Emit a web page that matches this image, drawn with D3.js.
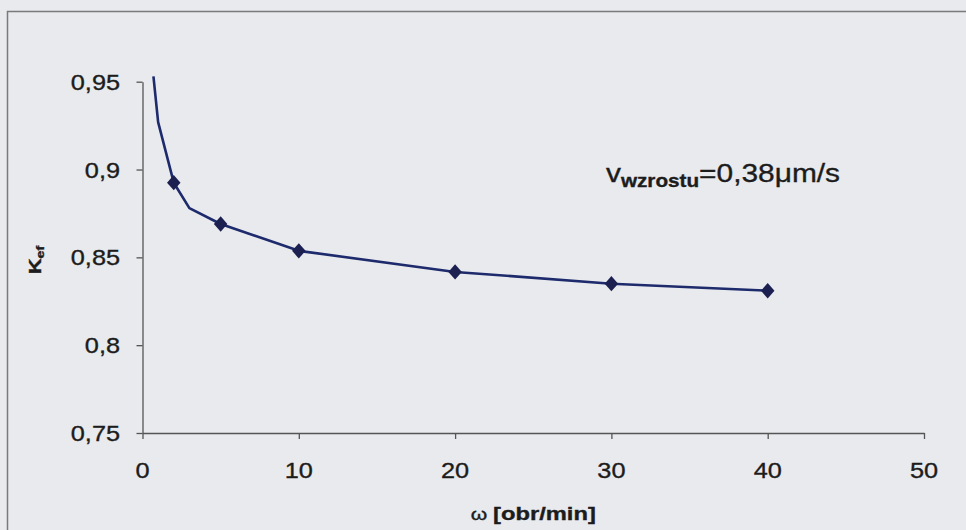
<!DOCTYPE html>
<html>
<head>
<meta charset="utf-8">
<script src="https://cdn.jsdelivr.net/npm/d3@7"></script>
<style>
  html, body { margin: 0; padding: 0; background: #e9eaee; }
  svg { display: block; }
  text { font-family: "Liberation Sans", Arial, sans-serif; fill: #1c1c1c; stroke: #1c1c1c; stroke-width: 0.35px; }
</style>
</head>
<body>
<svg id="chart" width="966" height="530"></svg>
<script>
// Measured rotation speeds (obr/min) and effective coefficient K_ef
const omega = [2, 5, 10, 20, 30, 40];
const kef = [0.8925, 0.869, 0.8537, 0.8417, 0.835, 0.831];

// Curve drawn through the measurements, with extra points at low speeds
const curveOmega = [0.7, 1, 2, 3, 5, 10, 20, 30, 40];
const curveKef = [0.953, 0.927, 0.8925, 0.878, 0.869, 0.8537, 0.8417, 0.835, 0.831];

const xTicks = [0, 10, 20, 30, 40, 50];
const yTicks = [0.75, 0.8, 0.85, 0.9, 0.95];

const svg = d3.select("#chart");
const plotLeft = 142.5, plotRight = 924, plotTop = 81.7, plotBottom = 433;
const sx = 1.15; // horizontal text stretch

// frame
svg.append("rect")
  .attr("x", 7.5).attr("y", 11.5)
  .attr("width", 990).attr("height", 540)
  .attr("fill", "#e9eaee")
  .attr("stroke", "#7a7a7a").attr("stroke-width", 1.5);

const x = d3.scaleLinear().domain([0, 50]).range([plotLeft, plotRight]);
const y = d3.scaleLinear().domain([0.75, 0.95]).range([plotBottom, plotTop]);

const fmt = d => String(d).replace(".", ",");

// x axis
const gx = svg.append("g").attr("transform", `translate(0,${plotBottom})`)
  .call(d3.axisBottom(x).tickValues(xTicks).tickSize(6).tickSizeOuter(0).tickFormat(""));
gx.select(".domain").attr("stroke", "#555").attr("stroke-width", 1.3);
gx.selectAll(".tick line").attr("stroke", "#555").attr("stroke-width", 1.3);

// y axis
const gy = svg.append("g").attr("transform", `translate(${plotLeft},0)`)
  .call(d3.axisLeft(y).tickValues(yTicks).tickSize(6).tickSizeOuter(0).tickFormat(""));
gy.select(".domain").attr("stroke", "#555").attr("stroke-width", 1.3);
gy.selectAll(".tick line").attr("stroke", "#555").attr("stroke-width", 1.3);

// tick labels
svg.append("g").selectAll("text").data(xTicks).join("text")
  .attr("transform", d => `translate(${x(d)},${plotBottom + 45}) scale(${sx},1)`)
  .attr("text-anchor", "middle")
  .style("font-size", "22px")
  .text(d => d);

svg.append("g").selectAll("text").data(yTicks).join("text")
  .attr("transform", d => `translate(120,${y(d) + 8}) scale(${sx},1)`)
  .attr("text-anchor", "end")
  .style("font-size", "22px")
  .text(fmt);

// axis titles
const xt = svg.append("text")
  .attr("transform", `translate(${(plotLeft + plotRight) / 2},${520}) scale(1.32,1)`)
  .attr("text-anchor", "middle")
  .style("font-size", "18px").style("font-weight", "bold");
xt.append("tspan").style("font-size", "16px").style("font-weight", "normal").text("ω ");
xt.append("tspan").text("[obr/min]");

const yt = svg.append("text")
  .attr("transform", `translate(41,260) rotate(-90) scale(1.3,1)`)
  .attr("text-anchor", "middle")
  .style("font-size", "17px").style("font-weight", "bold");
yt.append("tspan").text("K");
yt.append("tspan").attr("dy", 3).style("font-size", "11px").text("ef");

// curve
const pts = curveOmega.map((d, i) => [d, curveKef[i]]);
svg.append("path")
  .datum(pts)
  .attr("fill", "none")
  .attr("stroke", "#1d2a6c")
  .attr("stroke-width", 2.6)
  .attr("stroke-linejoin", "round")
  .attr("d", d3.line().x(d => x(d[0])).y(d => y(d[1])));

// diamond markers (slightly taller than wide)
const rhomb = {
  draw(ctx, size) {
    const h = Math.sqrt(size) * 0.7, w = h * 0.88;
    ctx.moveTo(0, -h); ctx.lineTo(w, 0); ctx.lineTo(0, h); ctx.lineTo(-w, 0); ctx.closePath();
  }
};
svg.append("g").selectAll("path").data(omega).join("path")
  .attr("transform", (d, i) => `translate(${x(d)},${y(kef[i])})`)
  .attr("d", d3.symbol().type(rhomb).size(120))
  .attr("fill", "#1b2050");

// annotation
const ann = svg.append("text")
  .attr("transform", `translate(606,182) scale(1.15,1)`)
  .style("font-size", "26px");
ann.append("tspan").text("v");
ann.append("tspan").attr("dy", 5).style("font-size", "18px").style("font-weight", "bold").text("wzrostu");
ann.append("tspan").attr("dy", -5).text("=0,38μm/s");
</script>
</body>
</html>
